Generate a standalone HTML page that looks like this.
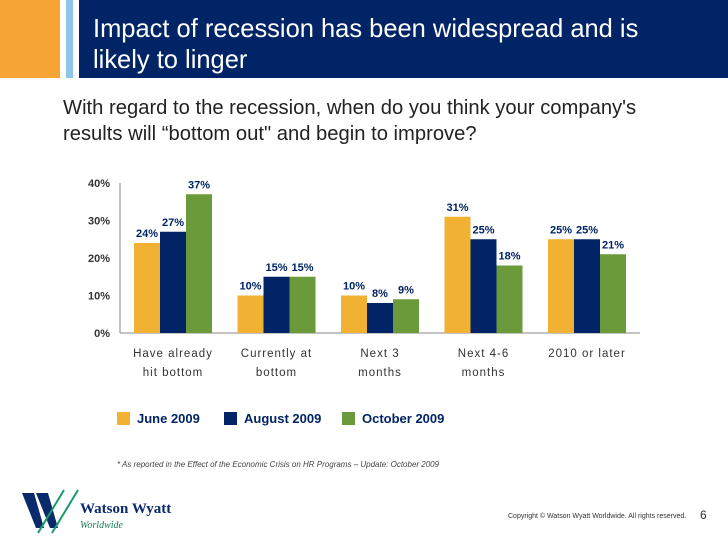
<!DOCTYPE html>
<html><head><meta charset="utf-8"><style>
body{margin:0;width:728px;height:546px;background:#fff;position:relative;overflow:hidden;font-family:"Liberation Sans",sans-serif}
.abs{position:absolute}
</style></head><body>
<div class="abs" style="left:0;top:0;width:60px;height:78px;background:#f5a436"></div>
<div class="abs" style="left:66px;top:0;width:7px;height:78px;background:#8ec6e8"></div>
<div class="abs" style="left:79px;top:0;width:649px;height:78px;background:#002465"></div>
<div class="abs" style="left:93px;top:13px;color:#fff;font-size:26px;line-height:31px;width:700px;transform:scaleX(0.98);transform-origin:0 0;white-space:nowrap">Impact of recession has been widespread and is<br>likely to linger</div>
<div class="abs" style="left:63px;top:95px;color:#222;font-size:20px;line-height:26px;white-space:nowrap;transform:scaleX(1.01);transform-origin:0 0">With regard to the recession, when do you think your company's<br>results will “bottom out" and begin to improve?</div>
<svg class="abs" style="left:0;top:0" width="728" height="546" id="chart"></svg>
<div class="abs" style="left:117px;top:460px;font-size:8px;font-style:italic;color:#444;white-space:nowrap">* As reported in the Effect of the Economic Crisis on HR Programs – Update: October 2009</div>
<svg class="abs" style="left:22px;top:488px" width="160" height="50">
<polygon points="0,5 12,5 22,40 14,40" fill="#0a2a6b"/><polygon points="14,5 26,5 36,40 28,40" fill="#0a2a6b"/>
<line x1="16" y1="45" x2="42" y2="2" stroke="#1a9a6a" stroke-width="2"/><line x1="30" y1="45" x2="56" y2="2" stroke="#1a9a6a" stroke-width="2"/>
<text x="58" y="25" font-family="Liberation Serif" font-weight="bold" font-size="15" fill="#0a2a6b">Watson Wyatt</text>
<text x="58" y="40" font-family="Liberation Serif" font-style="italic" font-size="10" fill="#1a7a5a">Worldwide</text></svg>
<div class="abs" style="left:508px;top:513px;font-size:7px;color:#333">Copyright © Watson Wyatt Worldwide. All rights reserved.</div>
<div class="abs" style="left:700px;top:508px;font-size:12px;color:#333">6</div>
<script>
const categories=[["Have already","hit bottom"],["Currently at","bottom"],["Next 3","months"],["Next 4-6","months"],["2010 or later"]];
const june=[24,10,10,31,25];
const aug=[27,15,8,25,25];
const oct=[37,15,9,18,21];
const seriesNames=["June 2009","August 2009","October 2009"];
const ticks=[0,10,20,30,40];
const colors=["#f1b132","#002465","#6a9a3a"];
const svg=document.getElementById('chart');const NS="http://www.w3.org/2000/svg";
const x0=120,y0=333,pxPer=3.75,gw=103.5,bw=26,gStart=134;
const yS=v=>y0-v*pxPer;
function el(t,a,txt){const e=document.createElementNS(NS,t);for(const k in a)e.setAttribute(k,a[k]);if(txt!==undefined)e.textContent=txt;svg.appendChild(e);return e;}
let ax=el('line',{x1:x0,y1:yS(40),x2:x0,y2:y0,stroke:'#888'});

let bx=el('line',{x1:x0,y1:y0,x2:640,y2:y0,stroke:'#888'});

ticks.forEach(t=>{const tx=el('text',{x:x0-10,y:yS(t)+4,'text-anchor':'end','font-size':11,'font-weight':'bold',fill:'#333'},t+'%');
});
const series=[june,aug,oct];
categories.forEach((c,i)=>{
 series.forEach((s,j)=>{const x=gStart+i*gw+j*bw;
  const r=el('rect',{x:x,y:yS(s[i]),width:bw,height:s[i]*pxPer,fill:colors[j]});
  
  const l=el('text',{x:x+bw/2,y:yS(s[i])-6,'text-anchor':'middle','font-size':11,'font-weight':'bold',fill:'#002465'},s[i]+'%');
  });
 const cx=gStart+i*gw+1.5*bw;
 c.forEach((ln,k)=>{const t=el('text',{x:cx,y:357+k*19,'text-anchor':'middle','font-size':11.5,'letter-spacing':'1',fill:'#333'},ln);
  });
});
const lx=[117,224,342];
seriesNames.forEach((n,j)=>{const r=el('rect',{x:lx[j],y:412,width:13,height:13,fill:colors[j]});
 
 const t=el('text',{x:lx[j]+20,y:423,'font-size':13,'font-weight':'bold',fill:'#002465'},n);
 });
</script>
</body></html>
